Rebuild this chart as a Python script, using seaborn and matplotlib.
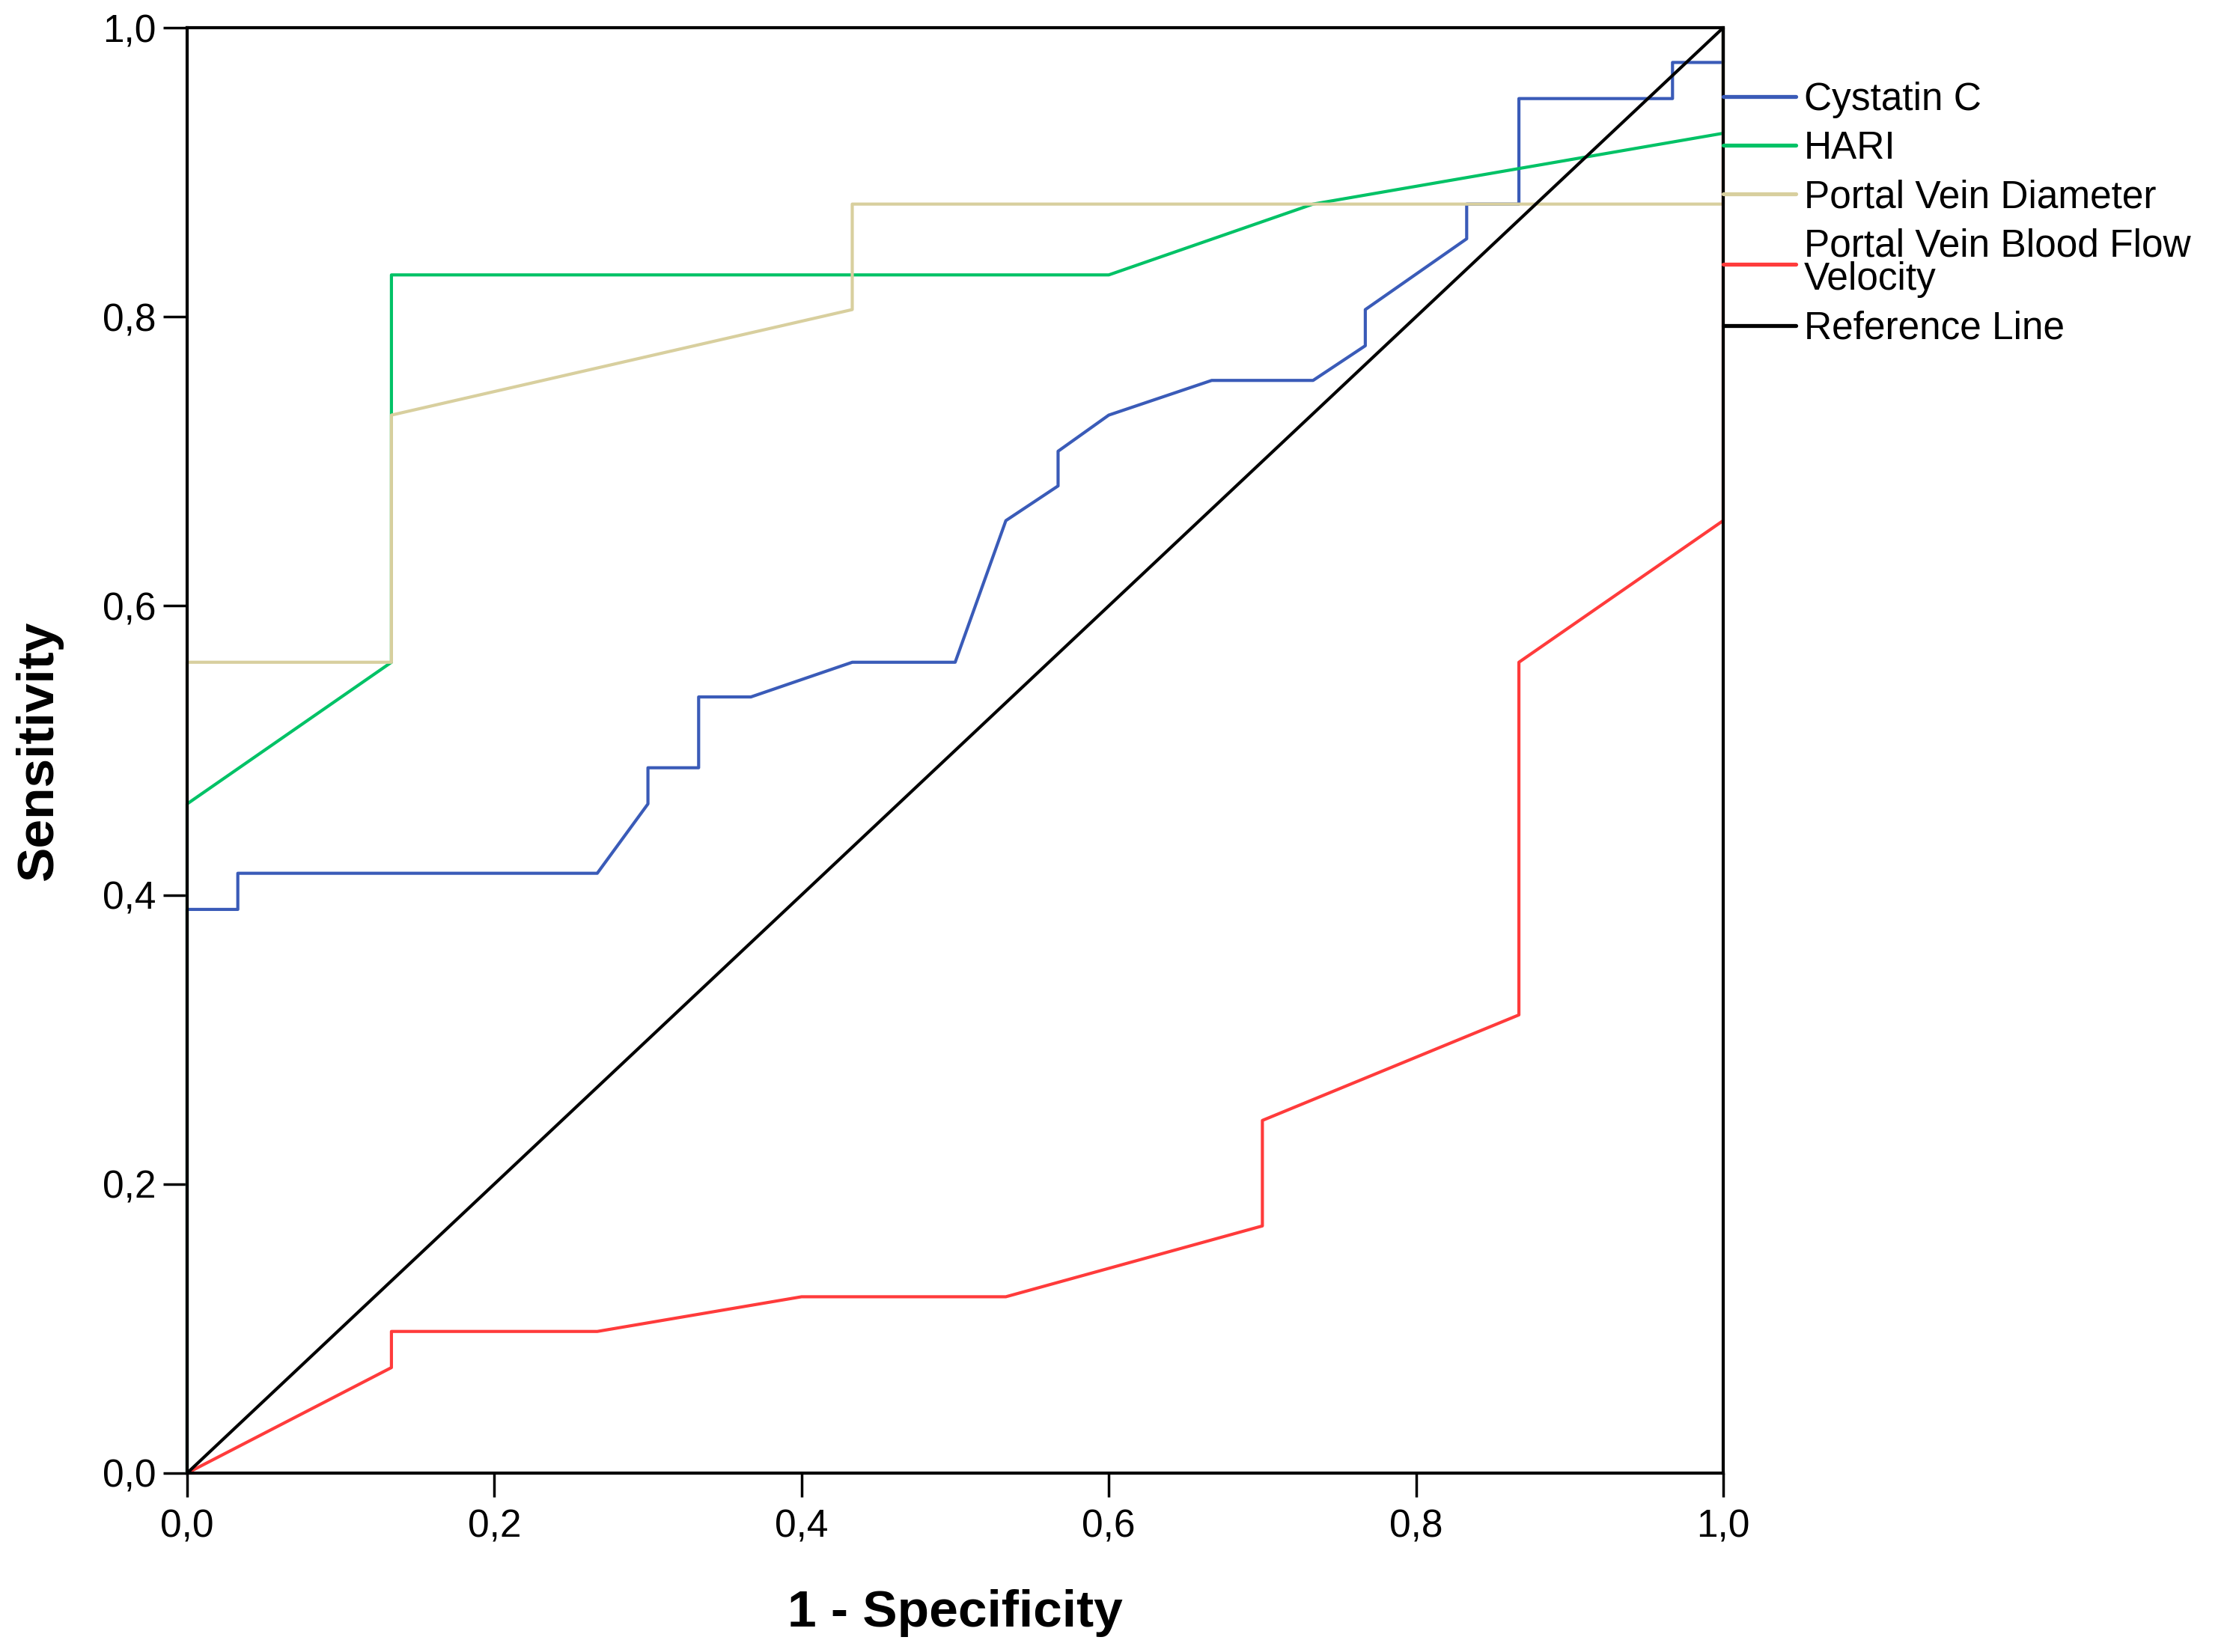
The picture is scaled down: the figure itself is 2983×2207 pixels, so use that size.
import pandas as pd
import matplotlib.pyplot as plt
import seaborn as sns

# ROC coordinates (1 - specificity, sensitivity)
cystatin_fpr = [0.0, 0.0, 0.033, 0.033, 0.267, 0.300, 0.300, 0.333, 0.333, 0.367, 0.433, 0.500,
                0.533, 0.567, 0.567, 0.600, 0.667, 0.733, 0.767, 0.767, 0.833, 0.833, 0.867,
                0.867, 0.967, 0.967, 1.0, 1.0]
cystatin_tpr = [0.0, 0.390, 0.390, 0.415, 0.415, 0.463, 0.488, 0.488, 0.537, 0.537, 0.561, 0.561,
                0.659, 0.683, 0.707, 0.732, 0.756, 0.756, 0.780, 0.805, 0.854, 0.878, 0.878,
                0.951, 0.951, 0.976, 0.976, 1.0]

hari_fpr = [0.0, 0.0, 0.133, 0.133, 0.600, 0.733, 1.0, 1.0]
hari_tpr = [0.0, 0.463, 0.561, 0.829, 0.829, 0.878, 0.927, 1.0]

diameter_fpr = [0.0, 0.0, 0.133, 0.133, 0.433, 0.433, 1.0, 1.0]
diameter_tpr = [0.0, 0.561, 0.561, 0.732, 0.805, 0.878, 0.878, 1.0]

velocity_fpr = [0.0, 0.133, 0.133, 0.267, 0.400, 0.533, 0.700, 0.700, 0.867, 0.867, 1.0, 1.0]
velocity_tpr = [0.0, 0.073, 0.098, 0.098, 0.122, 0.122, 0.171, 0.244, 0.317, 0.561, 0.659, 1.0]

reference_fpr = [0.0, 1.0]
reference_tpr = [0.0, 1.0]

series_names = ["Cystatin C", "HARI", "Portal Vein Diameter",
                "Portal Vein Blood Flow\nVelocity", "Reference Line"]
series_colors = ["#3A5BB8", "#00C266", "#D8CF9E", "#FF3B3B", "#000000"]

tick_values = [0.0, 0.2, 0.4, 0.6, 0.8, 1.0]
tick_labels = ["0,0", "0,2", "0,4", "0,6", "0,8", "1,0"]

frames = []
for name, xs, ys in zip(series_names,
                        [cystatin_fpr, hari_fpr, diameter_fpr, velocity_fpr, reference_fpr],
                        [cystatin_tpr, hari_tpr, diameter_tpr, velocity_tpr, reference_tpr]):
    frames.append(pd.DataFrame({"fpr": xs, "tpr": ys, "series": name}))
df = pd.concat(frames, ignore_index=True)

sns.set_style("white")
plt.rcParams["font.family"] = ["Liberation Sans", "DejaVu Sans"]
plt.rcParams["text.color"] = "black"

fig = plt.figure(figsize=(29.83, 22.07), dpi=100)
ax = fig.add_axes([0.0838, 0.1083, 0.6879, 0.8749])

sns.lineplot(data=df, x="fpr", y="tpr", hue="series", hue_order=series_names,
             palette=series_colors, sort=False, estimator=None, linewidth=3.0, ax=ax)
for line in ax.lines:
    line.set_clip_on(False)

ax.set_xlim(0, 1)
ax.set_ylim(0, 1)
ax.set_xticks(tick_values)
ax.set_xticklabels(tick_labels)
ax.set_yticks(tick_values)
ax.set_yticklabels(tick_labels)
ax.tick_params(axis="both", direction="out", length=23, width=2.5, color="black",
               labelsize=37, labelcolor="black", bottom=True, left=True)
ax.tick_params(axis="x", pad=11)
ax.tick_params(axis="y", pad=7)

for side in ["left", "right", "top", "bottom"]:
    ax.spines[side].set_visible(True)
    ax.spines[side].set_color("black")
    ax.spines[side].set_linewidth(3)

ax.set_xlabel("1 - Specificity", fontsize=50, fontweight="bold", color="black")
ax.set_ylabel("Sensitivity", fontsize=50, fontweight="bold", color="black")
ax.xaxis.set_label_coords(0.5, -0.0968)
ax.xaxis.label.set_va("center")
ax.yaxis.set_label_coords(-0.0965, 0.5)
ax.yaxis.label.set_va("center")

leg = ax.legend(loc="upper left", bbox_to_anchor=(1.0, 0.963), frameon=False,
                fontsize=37, borderpad=0, borderaxespad=0, handlelength=1.89,
                handletextpad=0.21, labelspacing=0.32)
for h in leg.get_lines():
    h.set_linewidth(3.8)
for t in leg.get_texts():
    t.set_color("black")
leg.get_texts()[3].set_linespacing(0.88)

fig.savefig("out.png", dpi=100)
